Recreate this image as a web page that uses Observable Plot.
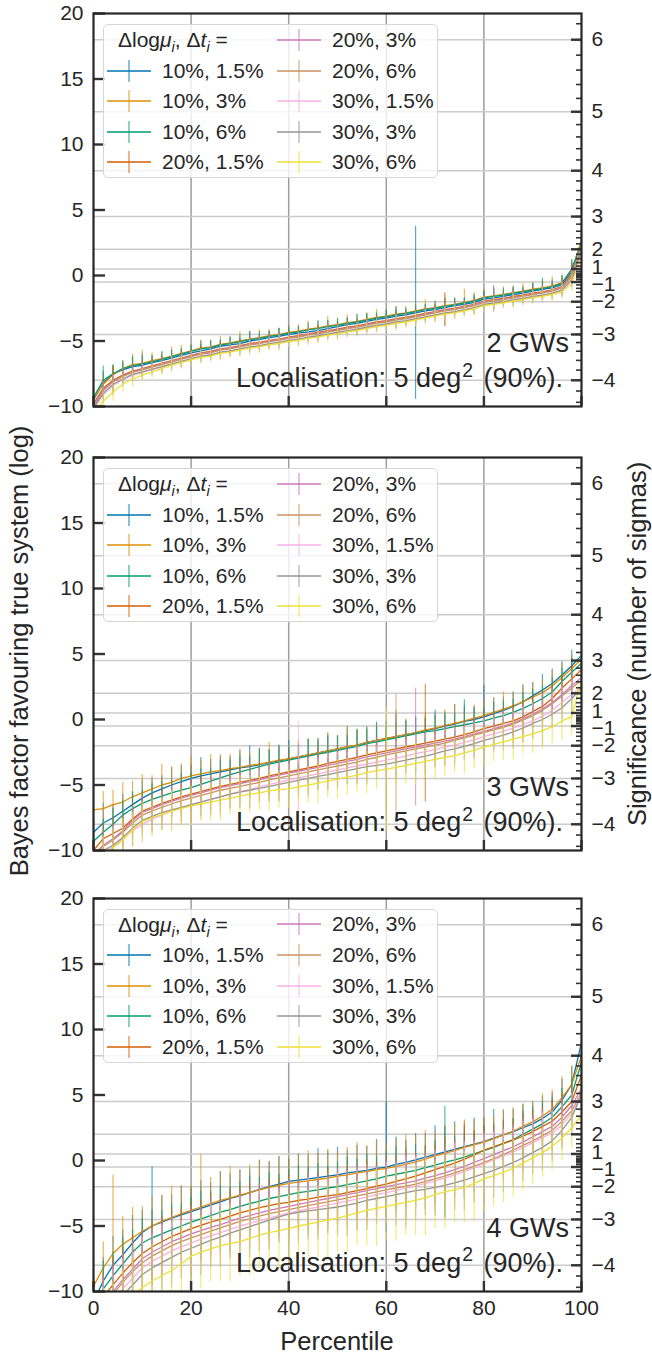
<!DOCTYPE html>
<html><head><meta charset="utf-8">
<script src="https://cdn.jsdelivr.net/npm/d3@7"></script>
<script src="https://cdn.jsdelivr.net/npm/@observablehq/plot@0.6"></script>
<style>
html,body{margin:0;padding:0;background:#fff;overflow:hidden;}
#root{position:relative;width:652px;height:1355px;font-family:"Liberation Sans",Arial,sans-serif;color:#262626;}
#root svg{position:absolute;left:0;}
.legend{position:absolute;left:103px;width:335px;height:154px;background:rgba(255,255,255,0.8);border:1.5px solid #d6d6d6;border-radius:5px;box-sizing:border-box;}
.lg{position:absolute;font-size:21px;line-height:22px;white-space:nowrap;}
.ann{position:absolute;font-size:27px;line-height:27px;white-space:nowrap;text-align:right;}
.lab{position:absolute;font-size:25.5px;white-space:nowrap;transform:translate(-50%,-50%) rotate(-90deg);}
</style></head><body><div id="root"></div>
<script>
// ---------- data ----------
const percentile = [0,2,4,6,8,10,12,14,16,18,20,22,24,26,28,30,32,34,36,38,40,42,44,46,48,50,52,54,56,58,60,62,64,66,68,70,72,74,76,78,80,82,84,86,88,90,92,94,96,98,100];
const seriesLabels = ["10%, 1.5%","10%, 3%","10%, 6%","20%, 1.5%","20%, 3%","20%, 6%","30%, 1.5%","30%, 3%","30%, 6%"];
const seriesColors = ["#0173b2","#de8f05","#029e73","#d55e00","#cc78bc","#ca9161","#fbafe4","#949494","#ece133"];
const leftTicks = [20,15,10,5,0,-5,-10];
const xTicks = [0,20,40,60,80,100];
const gridX = [20,40,60,80];
const sigmaMajor = [6,5,4,3,2,1,-1,-2,-3,-4];
const sigmaMinor = [-4.4,-4.2,-4,-3.8,-3.6,-3.4,-3.2,-3,-2.8,-2.6,-2.4,-2.2,-2,-1.8,-1.6,-1.4,-1.2,-1,-0.8,-0.6,-0.4,-0.2,0,0.2,0.4,0.6,0.8,1,1.2,1.4,1.6,1.8,2,2.2,2.4,2.6,2.8,3,3.2,3.4,3.6,3.8,4,4.2,4.4,4.6,4.8,5,5.2,5.4,5.6,5.8,6,6.2];
const panelNames = ["2 GWs","3 GWs","4 GWs"];

// 2 GWs
const gw2Values = [
[-9.5,-8.2,-7.5,-7.2,-6.95,-6.85,-6.65,-6.5,-6.3,-6.1,-5.9,-5.75,-5.6,-5.4,-5.3,-5.2,-5.0,-4.9,-4.75,-4.65,-4.5,-4.4,-4.3,-4.2,-4.05,-3.9,-3.75,-3.65,-3.5,-3.35,-3.25,-3.1,-3.0,-2.85,-2.7,-2.6,-2.45,-2.3,-2.2,-2.05,-1.8,-1.7,-1.6,-1.45,-1.35,-1.2,-1.05,-0.95,-0.7,0.3,2.6],
[-9.4,-8.3,-7.6,-7.1,-6.8,-6.7,-6.5,-6.35,-6.15,-5.95,-5.75,-5.55,-5.45,-5.25,-5.15,-5.0,-4.85,-4.75,-4.6,-4.5,-4.35,-4.25,-4.1,-4.0,-3.85,-3.75,-3.6,-3.5,-3.35,-3.2,-3.1,-2.95,-2.85,-2.7,-2.55,-2.45,-2.3,-2.2,-2.05,-1.9,-1.65,-1.55,-1.45,-1.3,-1.2,-1.05,-0.95,-0.8,-0.55,0.4,2.7],
[-9.3,-8.0,-7.5,-7.1,-6.9,-6.75,-6.6,-6.4,-6.2,-6.0,-5.8,-5.6,-5.5,-5.3,-5.2,-5.05,-4.9,-4.8,-4.65,-4.55,-4.4,-4.3,-4.15,-4.05,-3.9,-3.8,-3.65,-3.55,-3.4,-3.25,-3.15,-3.0,-2.9,-2.75,-2.6,-2.5,-2.35,-2.25,-2.1,-1.95,-1.7,-1.6,-1.5,-1.35,-1.25,-1.1,-1.0,-0.85,-0.6,0.5,2.4],
[-9.8,-8.6,-8.0,-7.6,-7.3,-7.1,-6.9,-6.7,-6.5,-6.3,-6.1,-5.9,-5.8,-5.6,-5.5,-5.35,-5.2,-5.1,-4.95,-4.85,-4.7,-4.6,-4.45,-4.35,-4.2,-4.1,-3.95,-3.85,-3.7,-3.55,-3.45,-3.3,-3.2,-3.05,-2.9,-2.75,-2.6,-2.5,-2.35,-2.2,-1.95,-1.85,-1.75,-1.6,-1.5,-1.35,-1.25,-1.1,-0.85,0.1,2.0],
[-9.9,-8.7,-8.1,-7.7,-7.35,-7.15,-6.95,-6.75,-6.55,-6.35,-6.15,-5.95,-5.85,-5.65,-5.55,-5.4,-5.25,-5.15,-5.0,-4.9,-4.75,-4.65,-4.5,-4.4,-4.25,-4.15,-4.0,-3.9,-3.75,-3.6,-3.5,-3.35,-3.25,-3.1,-2.95,-2.8,-2.65,-2.55,-2.4,-2.25,-2.0,-1.9,-1.8,-1.65,-1.55,-1.4,-1.3,-1.15,-0.9,0.0,2.3],
[-10.0,-8.8,-8.1,-7.7,-7.4,-7.2,-7.0,-6.8,-6.6,-6.4,-6.2,-6.0,-5.9,-5.7,-5.6,-5.45,-5.3,-5.2,-5.05,-4.95,-4.8,-4.7,-4.55,-4.45,-4.3,-4.2,-4.05,-3.95,-3.8,-3.65,-3.55,-3.4,-3.3,-3.15,-3.0,-2.85,-2.7,-2.6,-2.45,-2.3,-2.05,-1.95,-1.85,-1.7,-1.6,-1.45,-1.35,-1.2,-0.95,-0.1,2.1],
[-10.2,-9.1,-8.4,-7.95,-7.6,-7.4,-7.2,-7.0,-6.8,-6.6,-6.4,-6.2,-6.1,-5.9,-5.8,-5.65,-5.5,-5.4,-5.25,-5.15,-5.0,-4.9,-4.75,-4.65,-4.5,-4.4,-4.25,-4.15,-4.0,-3.85,-3.75,-3.6,-3.5,-3.35,-3.2,-3.05,-2.9,-2.8,-2.65,-2.5,-2.25,-2.15,-2.05,-1.9,-1.8,-1.65,-1.55,-1.4,-1.15,-0.4,1.8],
[-10.1,-9.0,-8.3,-7.9,-7.55,-7.35,-7.15,-6.95,-6.75,-6.55,-6.35,-6.15,-6.05,-5.85,-5.75,-5.6,-5.45,-5.35,-5.2,-5.1,-4.95,-4.85,-4.7,-4.6,-4.45,-4.35,-4.2,-4.1,-3.95,-3.8,-3.7,-3.55,-3.45,-3.3,-3.15,-3.0,-2.85,-2.75,-2.6,-2.45,-2.2,-2.1,-2.0,-1.85,-1.75,-1.6,-1.5,-1.35,-1.1,-0.3,1.9],
[-10.5,-9.6,-8.9,-8.3,-7.9,-7.6,-7.35,-7.1,-6.85,-6.65,-6.45,-6.25,-6.15,-5.95,-5.85,-5.7,-5.55,-5.45,-5.3,-5.2,-5.05,-4.95,-4.8,-4.7,-4.55,-4.45,-4.3,-4.2,-4.05,-3.9,-3.8,-3.65,-3.55,-3.4,-3.25,-3.1,-2.95,-2.85,-2.7,-2.55,-2.3,-2.2,-2.1,-1.95,-1.85,-1.7,-1.6,-1.45,-1.25,-0.6,1.5]
];
const gw2Errors = [
[0.8,0.9,0.6,0.5,0.7,0.9,0.5,0.4,0.6,0.5,0.4,0.5,0.6,0.4,0.5,0.4,0.7,0.4,0.5,0.6,0.4,0.5,0.3,0.4,0.6,0.4,0.5,0.3,0.5,0.4,0.6,0.5,0.4,6.6,0.5,0.4,0.6,0.5,0.4,0.5,0.6,0.9,0.4,0.5,0.4,0.6,0.5,0.4,0.6,0.7,0.8],
[0.9,0.8,0.7,0.6,0.8,1.0,0.6,0.5,0.7,0.6,0.5,0.6,0.5,0.6,0.5,0.7,0.5,0.6,0.5,0.5,0.6,0.5,0.6,0.5,0.7,0.5,0.6,0.5,0.5,0.6,0.5,0.6,0.5,0.6,0.7,0.5,0.6,0.5,1.0,0.6,0.6,0.5,0.6,0.5,0.6,0.5,0.6,0.7,0.6,0.8,0.9],
[0.9,1.1,0.7,0.6,0.7,0.6,0.5,0.6,0.5,0.4,0.5,0.6,0.5,0.4,0.5,0.5,0.6,0.5,0.4,0.5,0.5,0.4,0.5,0.6,0.4,0.5,0.4,0.6,0.5,0.4,0.5,0.6,0.4,0.5,0.4,0.5,0.6,0.5,0.4,0.5,0.5,0.6,0.5,0.5,0.4,0.5,0.8,0.5,0.6,0.7,0.8],
[0.8,0.7,1.1,0.6,0.5,0.6,0.5,0.5,0.4,0.5,0.4,0.5,0.4,0.5,0.4,0.5,0.4,0.5,0.4,0.5,0.4,0.5,0.4,0.5,0.4,0.5,0.4,0.5,0.4,0.5,0.4,0.5,0.4,0.5,0.4,0.5,1.3,0.5,0.4,0.5,0.4,0.5,0.4,0.5,0.4,0.5,0.4,0.5,0.6,0.7,0.8],
[0.7,0.6,0.5,0.6,0.5,0.5,0.4,0.5,0.4,0.5,0.4,0.4,0.5,0.4,0.5,0.4,0.4,0.5,0.4,0.5,0.4,0.4,0.5,0.4,0.5,0.4,0.4,0.5,0.4,0.5,0.4,0.4,0.5,0.4,0.5,0.4,0.4,0.5,0.4,0.5,0.4,0.9,0.4,0.5,0.4,0.4,0.5,0.4,0.5,0.6,0.8],
[0.8,0.6,0.5,0.7,0.5,0.4,0.5,0.4,0.5,0.4,0.5,0.4,0.5,0.4,0.5,0.4,0.5,0.4,0.5,0.4,0.5,0.4,0.5,0.4,0.5,0.4,0.5,0.4,0.5,0.4,0.5,0.4,0.5,0.4,0.5,0.4,1.2,0.4,0.5,0.4,0.5,0.4,0.5,0.4,0.5,0.4,0.5,0.4,0.5,0.6,0.7],
[0.9,0.7,0.8,0.6,0.5,0.6,0.5,0.5,0.6,0.5,0.6,0.5,0.5,0.6,0.5,0.5,0.6,0.5,0.5,0.6,0.5,0.5,0.6,0.5,0.5,0.6,0.5,0.5,0.6,0.5,0.5,0.6,0.5,0.5,0.6,0.5,0.5,0.6,0.5,0.5,0.6,0.5,0.5,0.6,0.5,0.5,0.6,0.5,0.6,0.7,0.8],
[0.8,0.7,0.6,0.5,0.6,0.5,0.4,0.5,0.4,0.5,0.4,0.5,0.4,0.5,0.4,0.5,0.4,0.5,0.4,0.5,0.4,0.5,0.4,0.5,0.4,0.5,0.4,0.5,0.4,0.5,0.4,0.5,0.4,0.5,0.4,0.5,0.4,0.5,0.4,0.5,0.4,0.5,0.4,0.5,0.4,0.5,0.4,0.5,0.5,0.6,0.7],
[0.8,0.7,0.7,0.6,0.6,0.5,0.5,0.5,0.5,0.5,0.4,0.5,0.4,0.5,0.4,0.5,0.4,0.5,0.4,0.5,0.4,0.5,0.4,0.5,0.4,0.5,0.4,0.5,0.4,0.5,0.4,0.5,0.4,0.5,0.4,0.5,0.4,0.5,0.4,0.5,0.4,0.5,0.4,0.5,0.4,0.5,0.4,0.5,0.5,0.6,0.7]
];

// 3 GWs
const gw3Values = [
[-8.6,-7.9,-7.5,-7.0,-6.5,-6.0,-5.6,-5.3,-5.0,-4.75,-4.5,-4.3,-4.15,-4.0,-3.85,-3.7,-3.6,-3.45,-3.3,-3.15,-3.0,-2.85,-2.7,-2.55,-2.4,-2.25,-2.1,-1.95,-1.75,-1.6,-1.45,-1.3,-1.15,-1.0,-0.85,-0.7,-0.5,-0.35,-0.15,0.0,0.2,0.45,0.7,1.0,1.35,1.8,2.25,2.75,3.4,4.1,4.9],
[-6.9,-6.8,-6.5,-6.3,-5.9,-5.6,-5.3,-5.0,-4.8,-4.5,-4.3,-4.15,-4.0,-3.9,-3.75,-3.65,-3.5,-3.4,-3.25,-3.1,-3.0,-2.85,-2.7,-2.55,-2.4,-2.25,-2.1,-1.95,-1.75,-1.6,-1.45,-1.3,-1.15,-1.0,-0.8,-0.65,-0.45,-0.3,-0.1,0.1,0.3,0.55,0.8,1.05,1.35,1.7,2.05,2.55,3.2,3.9,4.6],
[-9.3,-8.6,-8.0,-7.3,-6.8,-6.4,-6.1,-5.85,-5.6,-5.4,-5.2,-4.95,-4.7,-4.45,-4.2,-4.0,-3.8,-3.6,-3.4,-3.25,-3.1,-2.95,-2.8,-2.65,-2.5,-2.35,-2.2,-2.05,-1.85,-1.7,-1.55,-1.4,-1.25,-1.1,-0.95,-0.85,-0.7,-0.55,-0.4,-0.25,-0.1,0.1,0.3,0.55,0.85,1.2,1.6,2.1,2.9,3.6,4.3],
[-10.0,-9.1,-8.7,-8.3,-7.6,-7.0,-6.7,-6.4,-6.15,-5.9,-5.7,-5.5,-5.3,-5.1,-4.95,-4.8,-4.65,-4.5,-4.3,-4.15,-4.0,-3.85,-3.7,-3.55,-3.35,-3.2,-3.05,-2.9,-2.7,-2.55,-2.4,-2.25,-2.1,-1.95,-1.8,-1.65,-1.5,-1.35,-1.15,-0.95,-0.7,-0.5,-0.3,-0.1,0.2,0.6,1.0,1.6,2.4,3.1,3.8],
[-10.3,-9.6,-9.1,-8.5,-7.7,-7.1,-6.8,-6.5,-6.25,-6.0,-5.8,-5.6,-5.4,-5.2,-5.05,-4.9,-4.75,-4.6,-4.4,-4.25,-4.1,-3.95,-3.8,-3.65,-3.5,-3.35,-3.2,-3.05,-2.85,-2.7,-2.55,-2.4,-2.25,-2.1,-1.95,-1.8,-1.65,-1.5,-1.3,-1.1,-0.9,-0.7,-0.5,-0.25,0.05,0.4,0.8,1.3,1.9,2.6,3.2],
[-10.3,-9.7,-9.2,-8.6,-7.9,-7.3,-7.0,-6.7,-6.45,-6.2,-6.0,-5.8,-5.6,-5.4,-5.25,-5.1,-4.95,-4.8,-4.6,-4.45,-4.3,-4.15,-4.0,-3.85,-3.7,-3.55,-3.4,-3.25,-3.05,-2.9,-2.7,-2.55,-2.4,-2.25,-2.1,-1.95,-1.8,-1.6,-1.4,-1.2,-1.0,-0.8,-0.6,-0.35,-0.05,0.3,0.7,1.2,1.8,2.4,3.0],
[-10.8,-10.2,-9.7,-9.1,-8.5,-8.0,-7.6,-7.3,-7.0,-6.75,-6.5,-6.3,-6.1,-5.9,-5.7,-5.5,-5.35,-5.15,-4.95,-4.8,-4.6,-4.45,-4.3,-4.15,-4.0,-3.85,-3.7,-3.55,-3.4,-3.25,-3.1,-2.95,-2.8,-2.6,-2.45,-2.3,-2.1,-1.95,-1.75,-1.55,-1.3,-1.1,-0.9,-0.65,-0.4,-0.1,0.25,0.7,1.3,1.9,2.5],
[-10.5,-10.0,-9.6,-9.0,-8.3,-7.7,-7.4,-7.1,-6.9,-6.7,-6.5,-6.3,-6.1,-5.9,-5.7,-5.55,-5.4,-5.25,-5.1,-4.95,-4.8,-4.65,-4.5,-4.35,-4.2,-4.05,-3.9,-3.75,-3.6,-3.5,-3.4,-3.25,-3.1,-2.95,-2.8,-2.6,-2.4,-2.25,-2.05,-1.85,-1.6,-1.4,-1.2,-0.95,-0.65,-0.3,0.0,0.4,0.9,1.6,2.4],
[-11.0,-10.4,-9.8,-9.2,-8.4,-7.8,-7.5,-7.25,-7.0,-6.8,-6.6,-6.45,-6.3,-6.15,-6.0,-5.85,-5.7,-5.6,-5.45,-5.35,-5.3,-5.15,-5.0,-4.85,-4.7,-4.55,-4.4,-4.25,-4.05,-3.9,-3.8,-3.65,-3.5,-3.35,-3.2,-3.05,-2.9,-2.75,-2.55,-2.35,-2.1,-1.9,-1.7,-1.5,-1.3,-1.1,-0.85,-0.55,-0.1,0.2,3.0]
];
const gw3Errors = [
[1.2,1.5,1.0,1.3,0.9,1.4,1.1,1.0,1.3,1.2,1.0,1.4,1.1,1.2,1.0,1.3,1.6,1.1,1.0,1.2,1.4,1.0,1.2,1.1,1.3,1.0,1.5,1.1,1.2,1.0,1.3,1.7,1.1,1.2,1.0,1.4,1.1,1.5,1.2,1.0,2.4,1.2,1.0,1.1,1.3,1.0,1.2,1.1,1.0,1.2,1.0],
[1.0,1.3,1.1,1.5,1.2,1.4,1.0,1.6,1.2,1.1,1.5,1.0,1.3,1.2,1.1,1.4,1.0,1.2,1.5,1.1,1.0,1.3,1.2,1.1,1.4,1.0,1.6,1.2,1.1,1.3,1.0,2.0,1.2,1.1,1.3,1.0,1.2,1.4,1.1,1.0,1.2,1.1,1.3,1.0,1.2,1.1,1.0,1.2,1.1,1.0,0.9],
[1.1,1.0,1.2,1.1,1.3,1.0,1.2,1.1,1.0,1.3,1.1,1.2,1.0,1.3,1.1,1.2,1.0,1.4,1.1,1.2,1.0,1.1,1.3,1.0,1.2,1.1,1.0,1.3,1.1,1.5,1.0,1.2,1.1,1.3,1.0,1.2,1.1,1.0,1.9,1.1,1.0,1.2,1.1,1.0,1.2,1.1,1.0,1.1,1.0,1.1,0.9],
[1.0,1.1,1.2,1.0,1.1,1.2,1.0,1.1,1.2,1.0,1.1,1.2,1.0,1.1,1.2,1.0,1.1,1.2,1.0,1.1,1.2,1.0,1.1,1.2,1.0,1.1,1.2,1.0,1.1,1.2,1.0,1.1,1.2,1.0,4.5,1.0,1.1,1.2,1.0,1.1,1.2,1.0,1.1,1.2,1.0,1.1,1.0,1.1,1.0,1.1,1.0],
[1.2,1.0,1.1,1.3,1.0,1.2,1.1,1.0,1.2,1.1,1.3,1.0,1.1,1.2,1.0,1.1,1.3,1.0,1.2,1.1,1.0,1.2,1.1,1.3,1.0,1.1,1.2,1.0,1.1,1.3,1.0,1.1,1.2,4.5,1.0,1.1,1.2,1.0,1.1,1.2,1.0,1.1,1.2,1.0,1.1,1.0,1.2,1.1,1.0,1.1,1.0],
[1.1,1.2,1.0,1.1,1.3,1.0,1.2,1.1,1.0,1.2,1.1,1.0,1.3,1.1,1.0,1.2,1.1,1.0,1.2,1.1,1.0,1.2,1.1,1.0,1.2,1.1,1.0,1.2,1.1,1.0,1.2,4.5,1.1,1.0,1.2,1.1,1.0,1.2,1.1,1.0,1.2,1.1,1.0,1.2,1.1,1.0,1.1,1.0,1.1,1.0,1.0],
[1.4,1.2,1.5,1.3,1.2,1.4,1.3,1.2,1.5,1.3,1.2,1.4,1.3,1.5,1.2,1.3,1.4,1.2,1.3,1.5,1.2,4.3,1.3,1.2,1.4,1.3,1.2,1.5,1.3,1.2,1.4,1.3,1.2,1.4,1.3,1.2,1.4,1.3,1.2,1.3,1.4,1.2,1.3,1.2,1.4,1.3,1.2,1.3,1.2,1.1,1.0],
[1.2,1.3,1.1,1.2,1.4,1.1,1.2,1.3,1.1,1.2,1.4,1.1,1.2,1.3,1.1,1.2,1.4,1.1,1.2,1.3,1.1,1.2,1.4,1.1,1.2,1.3,1.1,1.2,1.4,1.1,1.2,1.3,1.1,1.2,1.4,1.1,1.2,1.3,1.1,1.2,1.4,1.1,1.2,1.3,1.1,1.2,2.0,1.1,1.2,1.1,1.0],
[1.3,1.5,1.4,1.6,1.3,1.5,1.4,1.3,1.6,1.4,1.5,1.3,1.4,1.6,1.3,1.5,1.4,1.3,1.6,1.4,1.5,1.3,1.4,1.6,1.3,1.5,1.4,1.3,1.6,1.4,4.7,1.3,1.4,1.6,1.3,1.5,1.4,1.3,1.6,1.4,1.5,1.3,1.4,1.6,1.3,1.5,1.4,1.3,1.5,1.4,1.0]
];

// 4 GWs
const gw4Values = [
[-10.8,-9.2,-8.0,-7.2,-6.3,-5.5,-5.0,-4.7,-4.4,-4.15,-3.9,-3.65,-3.4,-3.15,-2.9,-2.7,-2.45,-2.2,-2.0,-1.8,-1.6,-1.5,-1.4,-1.3,-1.2,-1.1,-0.95,-0.85,-0.75,-0.6,-0.5,-0.3,-0.15,0.05,0.25,0.45,0.65,0.85,1.05,1.25,1.45,1.7,1.95,2.2,2.5,2.8,3.2,3.7,4.6,5.8,9.0],
[-9.6,-8.2,-7.1,-6.4,-5.9,-5.4,-5.0,-4.65,-4.35,-4.05,-3.8,-3.55,-3.3,-3.05,-2.85,-2.65,-2.45,-2.25,-2.05,-1.9,-1.75,-1.65,-1.55,-1.45,-1.35,-1.2,-1.1,-0.95,-0.85,-0.7,-0.6,-0.45,-0.3,-0.1,0.1,0.35,0.55,0.75,1.0,1.2,1.4,1.65,1.95,2.25,2.6,2.95,3.4,3.9,4.8,5.8,8.0],
[-11.0,-9.8,-8.8,-7.9,-7.0,-6.3,-5.9,-5.6,-5.3,-5.0,-4.7,-4.45,-4.2,-3.95,-3.75,-3.5,-3.3,-3.1,-2.9,-2.75,-2.6,-2.45,-2.35,-2.25,-2.1,-2.0,-1.85,-1.7,-1.55,-1.4,-1.2,-1.05,-0.9,-0.75,-0.55,-0.35,-0.15,0.05,0.25,0.5,0.75,1.0,1.3,1.6,2.0,2.4,2.8,3.3,4.1,5.0,7.5],
[-11.5,-10.4,-9.5,-8.6,-7.8,-7.1,-6.6,-6.2,-5.8,-5.5,-5.2,-4.95,-4.7,-4.5,-4.25,-4.0,-3.8,-3.6,-3.45,-3.3,-3.2,-3.05,-2.95,-2.8,-2.7,-2.6,-2.45,-2.3,-2.15,-1.95,-1.8,-1.6,-1.4,-1.2,-0.95,-0.7,-0.45,-0.2,0.1,0.4,0.8,1.05,1.3,1.55,1.85,2.2,2.6,3.0,3.7,4.5,6.5],
[-11.8,-10.8,-10.0,-9.1,-8.3,-7.5,-7.0,-6.6,-6.2,-5.9,-5.6,-5.35,-5.1,-4.9,-4.65,-4.4,-4.2,-4.0,-3.8,-3.65,-3.5,-3.35,-3.2,-3.05,-2.9,-2.75,-2.6,-2.45,-2.3,-2.15,-2.0,-1.85,-1.7,-1.55,-1.35,-1.15,-0.95,-0.7,-0.45,-0.15,0.15,0.45,0.75,1.05,1.4,1.8,2.2,2.6,3.3,4.2,5.5],
[-12.0,-11.0,-10.2,-9.3,-8.5,-7.8,-7.3,-6.9,-6.5,-6.2,-5.9,-5.65,-5.4,-5.15,-4.9,-4.65,-4.45,-4.25,-4.05,-3.9,-3.75,-3.6,-3.45,-3.3,-3.15,-3.0,-2.85,-2.7,-2.55,-2.4,-2.25,-2.1,-1.95,-1.8,-1.6,-1.4,-1.2,-0.95,-0.7,-0.45,-0.15,0.15,0.45,0.8,1.15,1.5,1.9,2.3,3.0,3.8,5.2],
[-12.5,-11.5,-10.6,-9.8,-9.0,-8.2,-7.7,-7.3,-6.9,-6.6,-6.3,-6.0,-5.75,-5.5,-5.25,-5.0,-4.8,-4.6,-4.4,-4.2,-4.0,-3.85,-3.7,-3.55,-3.4,-3.25,-3.1,-2.95,-2.8,-2.6,-2.45,-2.3,-2.1,-1.95,-1.75,-1.55,-1.35,-1.1,-0.85,-0.55,-0.25,0.05,0.35,0.65,1.0,1.35,1.75,2.1,2.7,3.6,5.0],
[-13.0,-12.0,-11.2,-10.3,-9.5,-8.7,-8.2,-7.8,-7.4,-7.0,-6.7,-6.4,-6.1,-5.85,-5.55,-5.3,-5.05,-4.8,-4.55,-4.3,-4.1,-3.95,-3.85,-3.75,-3.65,-3.55,-3.4,-3.25,-3.05,-2.9,-2.75,-2.6,-2.45,-2.3,-2.2,-2.05,-1.9,-1.7,-1.5,-1.25,-1.0,-0.75,-0.45,-0.15,0.2,0.6,1.0,1.5,2.3,3.3,5.0],
[-13.5,-12.5,-11.8,-11.0,-10.3,-9.7,-9.2,-8.8,-8.4,-7.9,-7.3,-7.0,-6.75,-6.5,-6.35,-6.2,-5.95,-5.7,-5.5,-5.35,-5.2,-5.0,-4.85,-4.7,-4.55,-4.4,-4.2,-4.0,-3.8,-3.65,-3.5,-3.35,-3.2,-3.05,-2.85,-2.6,-2.4,-2.25,-2.05,-1.75,-1.4,-1.15,-0.9,-0.6,-0.2,0.2,0.6,1.1,1.7,2.5,3.5]
];
const gw4Errors = [
[2.0,1.8,2.2,1.9,2.1,1.7,4.5,2.0,1.8,2.2,1.9,2.1,1.7,2.3,1.9,2.0,1.8,2.2,1.9,2.1,1.7,2.0,1.8,2.2,1.9,2.1,1.7,2.0,1.8,2.2,5.0,2.1,1.7,2.0,1.8,2.2,1.9,2.1,1.7,2.0,1.8,2.2,1.9,1.7,1.8,1.6,1.7,1.5,1.6,1.4,1.0],
[2.2,2.0,6.0,2.1,2.3,1.9,2.2,2.0,2.4,2.1,1.9,4.0,2.0,2.2,2.4,1.9,2.1,2.3,2.0,2.2,1.9,2.1,2.3,2.0,2.2,1.9,2.1,2.3,2.0,2.2,1.9,2.1,2.3,2.0,2.2,1.9,2.1,2.0,1.8,1.9,1.8,1.7,1.9,1.8,1.7,1.6,1.7,1.5,1.6,1.4,1.0],
[1.9,2.1,1.8,2.0,1.7,1.9,2.1,1.8,2.0,1.7,1.9,2.1,1.8,2.0,1.7,1.9,2.1,1.8,2.0,1.7,1.9,2.1,1.8,2.0,1.7,1.9,2.1,1.8,2.0,1.7,1.9,2.1,1.8,2.0,1.7,1.9,4.3,1.8,2.0,1.7,1.9,1.8,1.7,1.6,1.8,1.7,1.6,1.5,1.4,1.3,1.0],
[2.0,1.8,2.1,1.9,2.2,1.8,2.0,1.9,2.1,1.8,2.0,1.9,2.2,1.8,2.0,1.9,2.1,1.8,2.0,1.9,2.2,1.8,2.0,1.9,2.1,1.8,2.0,1.9,2.2,1.8,2.0,1.9,2.1,1.8,2.0,1.9,2.2,1.8,3.0,1.9,1.8,1.7,1.8,1.6,1.7,1.6,1.5,1.6,1.5,1.3,1.0],
[2.1,1.9,2.2,2.0,1.8,2.1,1.9,2.2,2.0,1.8,2.1,1.9,2.2,2.0,1.8,2.1,1.9,2.2,2.0,1.8,2.1,1.9,2.2,2.0,1.8,2.1,1.9,2.2,2.0,1.8,2.1,1.9,2.2,2.0,1.8,2.1,1.9,2.2,2.0,1.8,2.1,1.9,1.8,1.7,1.8,1.6,1.7,1.5,1.6,1.4,1.0],
[2.0,2.2,1.9,2.1,2.3,1.9,2.1,2.0,2.2,1.9,2.1,2.0,2.2,1.9,2.1,2.0,2.2,1.9,2.1,2.0,2.2,1.9,2.1,2.0,2.2,1.9,2.1,2.0,2.2,1.9,2.1,2.0,3.2,1.9,2.1,2.0,2.2,1.9,2.1,2.0,1.9,1.8,1.9,1.7,1.8,1.6,1.7,1.6,1.5,1.4,1.0],
[2.3,2.1,2.4,2.2,2.0,2.3,2.1,2.4,2.2,2.0,2.3,2.1,2.4,2.2,2.0,2.3,2.1,2.4,2.2,2.0,2.3,2.1,2.4,2.2,2.0,2.3,2.1,2.4,2.2,2.0,2.3,2.1,2.4,2.2,2.0,2.3,2.1,2.4,2.2,2.0,2.3,2.1,2.0,1.9,2.0,1.8,1.9,1.7,1.6,1.5,1.0],
[2.2,2.4,2.1,2.3,2.0,2.2,2.4,2.1,2.3,2.0,2.2,2.4,2.1,2.3,2.0,2.2,2.4,2.1,2.3,2.0,2.2,2.4,2.1,2.3,2.0,2.2,2.4,2.1,2.3,2.0,2.2,2.4,2.1,2.3,2.0,2.2,2.4,2.1,2.3,2.0,2.2,2.1,2.0,1.9,1.8,1.7,1.8,1.6,1.5,1.4,1.0],
[2.6,2.8,2.5,2.7,2.9,2.6,2.8,2.5,2.7,2.9,2.6,2.8,2.5,2.7,2.9,2.6,2.8,2.5,2.7,2.9,2.6,2.8,2.5,2.7,2.9,2.6,2.8,2.5,2.7,2.9,2.6,2.8,2.5,2.7,2.9,2.6,2.8,2.5,2.7,2.9,2.5,2.4,2.3,2.2,2.1,2.0,1.9,1.8,1.7,1.5,1.2]
];

// ---------- layout ----------
const root = document.getElementById("root");
const W = 652, ML = 93, MR = 71, PH = 393, MT = 13;
const panelTops = [13, 457, 897.5];
const FONT = '"Liberation Sans", Arial, sans-serif';
const sigToLog = s => Math.sign(s) * s * s / 2;
const sigPos = sigmaMajor.map(sigToLog);
const minorPos = sigmaMinor.map(sigToLog);
const sigLabel = new Map(sigmaMajor.map(s => [sigToLog(s), s < 0 ? "\u2212" + (-s) : String(s)]));
const sigPosMain = sigmaMajor.filter(s => Math.abs(s) !== 1).map(sigToLog);

function panel(values, errors, idx) {
  const isLast = idx === 2;
  const MB = isLast ? 60 : 13;
  const marks = [
    Plot.gridX(gridX, {stroke: "#9e9e9e", strokeOpacity: 1, strokeWidth: 1.5}),
    Plot.gridY(sigPos, {stroke: "#cbcbcb", strokeOpacity: 1, strokeWidth: 1.5})
  ];
  values.forEach((vals, s) => {
    const data = percentile.map((p, i) => ({p, v: vals[i], e: errors[s][i]}));
    marks.push(Plot.ruleX(data, {x: "p", y1: d => d.v - d.e, y2: d => d.v + d.e, stroke: seriesColors[s], strokeOpacity: 0.65, strokeWidth: 1.2, clip: true}));
    marks.push(Plot.line(data, {x: "p", y: "v", stroke: seriesColors[s], strokeWidth: 1.3, clip: true}));
  });
  marks.push(
    Plot.axisY(leftTicks, {anchor: "left", tickSize: 12, dx: 12, fill: "none", stroke: "#333", strokeWidth: 2.4, label: null}),
    Plot.axisY(leftTicks, {anchor: "left", tickSize: 0, tickPadding: 10, fontSize: 21, label: null}),
    Plot.axisY(minorPos, {anchor: "right", tickSize: 6, dx: -6, fill: "none", stroke: "#333", strokeWidth: 1.6, label: null}),
    Plot.axisY(sigPos, {anchor: "right", tickSize: 11, dx: -11, fill: "none", stroke: "#333", strokeWidth: 2.4, label: null}),
    Plot.axisY(sigPosMain, {anchor: "right", tickSize: 0, tickPadding: 10, fontSize: 21, label: null, tickFormat: d => sigLabel.get(d)}),
    Plot.axisY([sigToLog(1)], {anchor: "right", tickSize: 0, tickPadding: 10, dy: -2, fontSize: 21, label: null, tickFormat: d => sigLabel.get(d)}),
    Plot.axisY([sigToLog(-1)], {anchor: "right", tickSize: 0, tickPadding: 10, dy: 2, fontSize: 21, label: null, tickFormat: d => sigLabel.get(d)}),
    Plot.axisX(xTicks, {anchor: "bottom", tickSize: 10, dy: -10, fill: "none", stroke: "#333", strokeWidth: 2.4, label: null})
  );
  if (isLast) marks.push(Plot.axisX(xTicks, {anchor: "bottom", tickSize: 0, tickPadding: 9, fontSize: 21, label: null}));
  marks.push(Plot.frame({stroke: "#262626", strokeWidth: 2.2}));
  const svg = Plot.plot({
    width: W, height: MT + PH + MB,
    marginLeft: ML, marginRight: MR, marginTop: MT, marginBottom: MB,
    x: {domain: [0, 100], axis: null},
    y: {domain: [-10, 20], axis: null},
    style: {fontFamily: FONT, fontSize: "21px", color: "#262626", background: "transparent", overflow: "visible"},
    marks
  });
  svg.style.top = (panelTops[idx] - MT) + "px";
  root.appendChild(svg);

  // legend
  const top = panelTops[idx];
  const lg = document.createElement("div");
  lg.className = "legend";
  lg.style.top = (top + 11) + "px";
  const rows = [16, 47, 77.5, 108, 138.5];
  let html = `<div class="lg" style="left:14px;top:${rows[0]-12}px">\u0394log<i>\u03bc</i><sub style="font-size:0.7em"><i>i</i></sub>, \u0394<i>t</i><sub style="font-size:0.7em"><i>i</i></sub> =</div>`;
  seriesLabels.forEach((lab, s) => {
    const col = s < 4 ? 0 : 1;
    const row = s < 4 ? s + 1 : s - 4;
    const hx = col === 0 ? 3 : 173, tx = col === 0 ? 58 : 228;
    const cy = rows[row] - 1.5;
    html += `<svg style="position:absolute;left:${hx}px;top:${cy-11}px" width="44" height="22"><line x1="0" y1="11" x2="44" y2="11" stroke="${seriesColors[s]}" stroke-width="1.4"/><line x1="22" y1="0" x2="22" y2="22" stroke="${seriesColors[s]}" stroke-opacity="0.65" stroke-width="1.4"/></svg>`;
    html += `<div class="lg" style="left:${tx}px;top:${cy-11}px">${lab}</div>`;
  });
  lg.innerHTML = html;
  root.appendChild(lg);

  // annotations
  const a1 = document.createElement("div");
  a1.className = "ann";
  a1.style.right = (W - 569) + "px";
  a1.style.top = (top + 340 - 22.8) + "px";
  a1.textContent = panelNames[idx];
  root.appendChild(a1);
  const a2 = document.createElement("div");
  a2.className = "ann";
  a2.style.right = (W - 563) + "px";
  a2.style.top = (top + 375 - 22.8) + "px";
  a2.innerHTML = 'Localisation: 5 deg<span style="font-size:0.72em;position:relative;top:-0.55em;margin-left:1px;margin-right:3px">2</span> (90%).';
  root.appendChild(a2);
}

panel(gw2Values, gw2Errors, 0);
panel(gw3Values, gw3Errors, 1);
panel(gw4Values, gw4Errors, 2);

// axis titles
function label(text, x, y, rot) {
  const d = document.createElement("div");
  d.className = "lab";
  d.style.left = x + "px"; d.style.top = y + "px";
  d.style.transform = `translate(-50%,-50%) rotate(${rot}deg)`;
  d.textContent = text;
  root.appendChild(d);
}
label("Bayes factor favouring true system (log)", 19, 651, -90);
label("Significance (number of sigmas)", 637, 644, -90);
label("Percentile", 337, 1341, 0);
</script></body></html>
